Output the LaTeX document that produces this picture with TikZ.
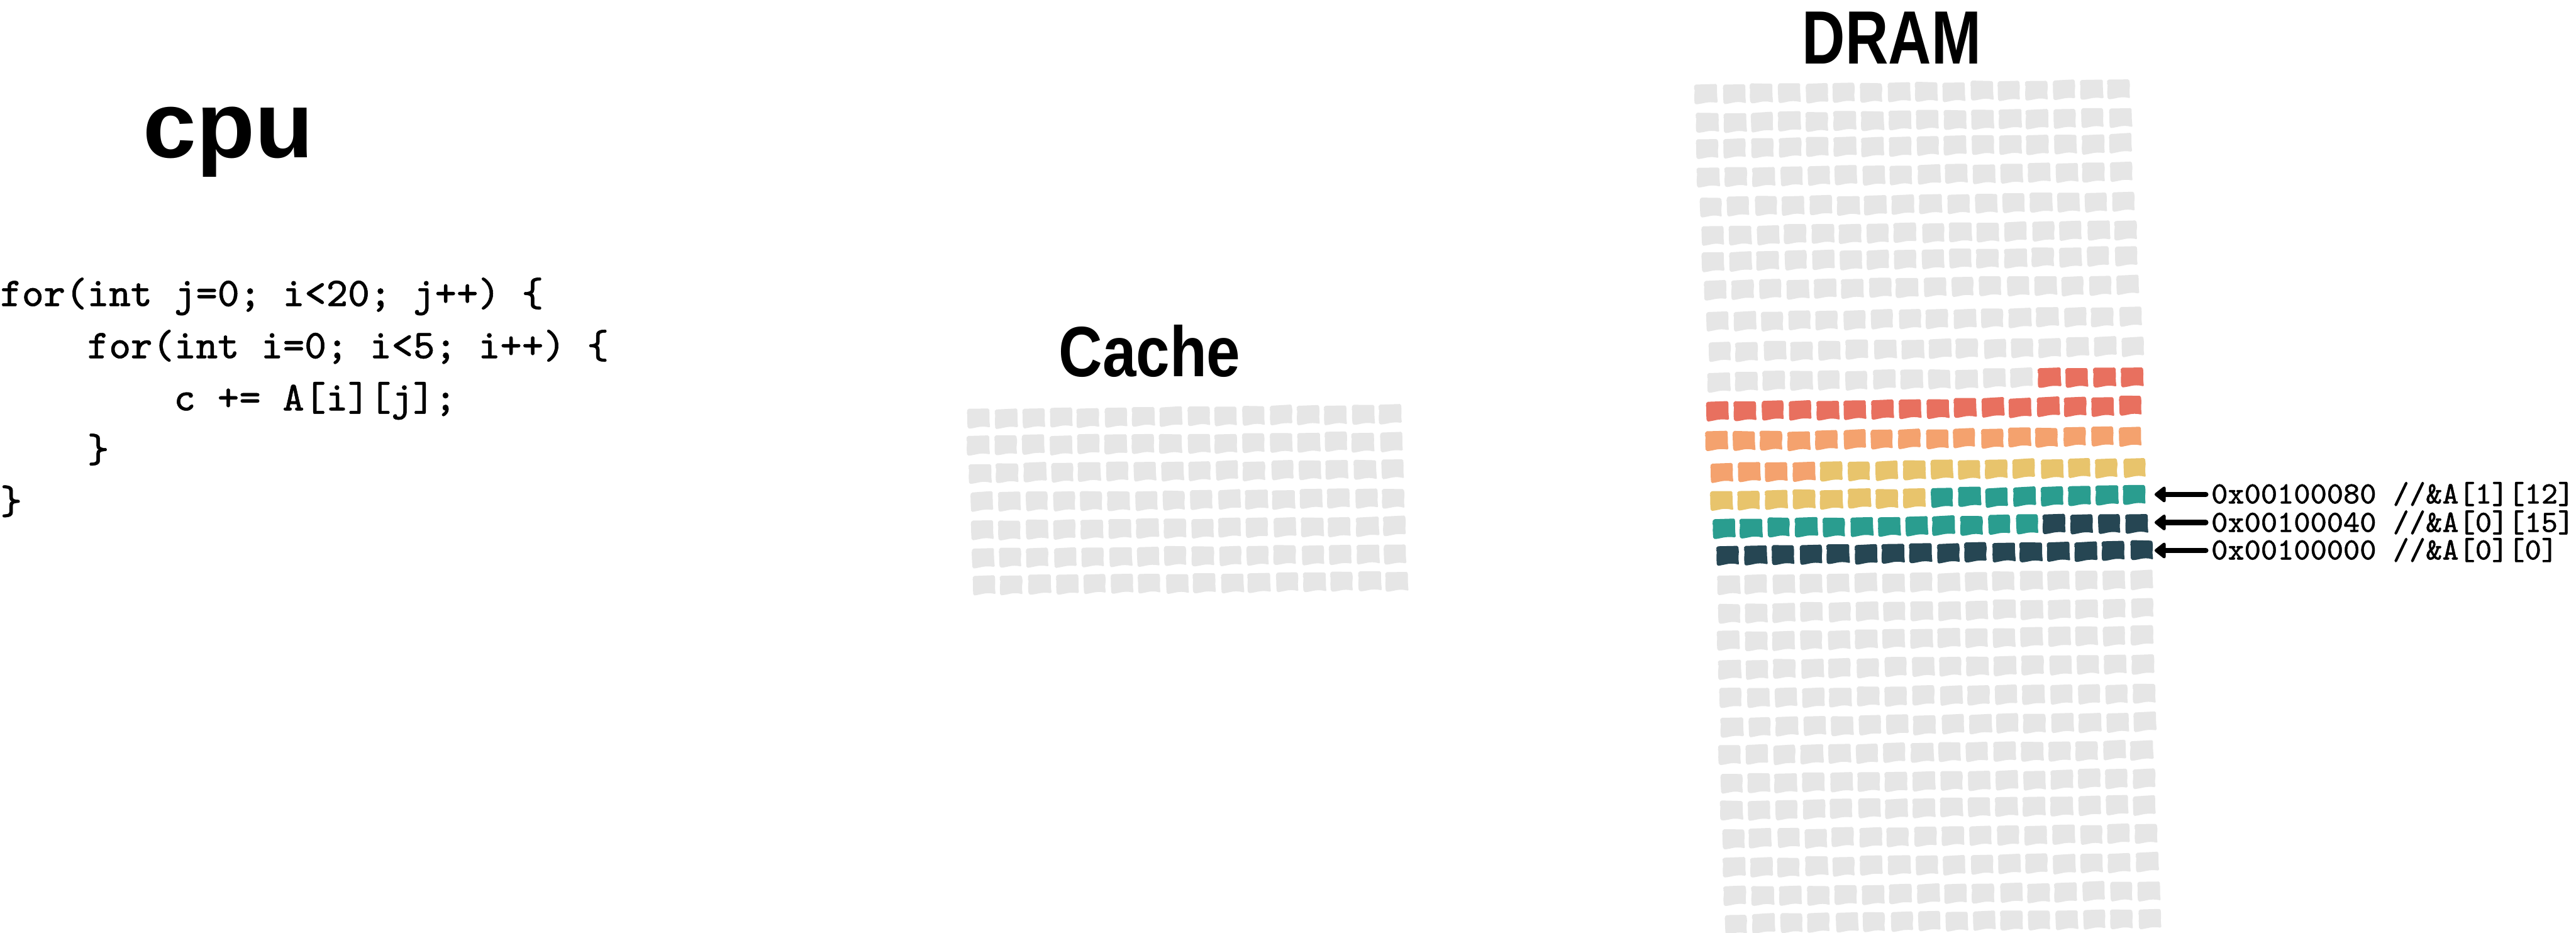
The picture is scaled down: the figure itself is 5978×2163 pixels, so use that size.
\documentclass[tikz,border=0pt]{standalone}
\usepackage{fontspec}
\usepackage{graphicx}
\newfontfamily\titlefont{Liberation Sans}
\newfontfamily\codefont{lmmono8-regular.otf}[FakeBold=0.8]
\usetikzlibrary{arrows.meta}
\definecolor{cgray}{HTML}{E6E6E6}
\definecolor{cred}{HTML}{E8705F}
\definecolor{corange}{HTML}{F4A26E}
\definecolor{cyellow}{HTML}{E8C46C}
\definecolor{cteal}{HTML}{2A9D8F}
\definecolor{cnavy}{HTML}{264653}
% hand-drawn memory cell: #1 x centre, #2 y centre, #3 colour
\newcommand\hcell[3]{%
  \pgfmathsetmacro\cx{#1+rand*1.2}%
  \pgfmathsetmacro\cy{#2+rand*1.2}%
  \pgfmathsetmacro\ra{rand*1.3}\pgfmathsetmacro\rb{rand*1.3}%
  \pgfmathsetmacro\rc{rand*1.3}\pgfmathsetmacro\rd{rand*1.3}%
  \begin{scope}[shift={(\cx,\cy)}]
    \fill[#3,rounded corners=0.8pt] (-25+\ra,-22+\rb) -- (25+\rc,-23+\rd) -- (26,-10) -- (25.5+\rc,6) -- (27+\rc,21+\rd)
      .. controls (15,18) and (3,19) .. (-5,21)
      .. controls (-13,22.5) and (-19,24) .. (-25+\ra,23+\rb)
      -- (-26+\ra,8) -- (-25.5,-12) -- (-27+\ra,-14) -- cycle;
  \end{scope}}
\begin{document}
\begin{tikzpicture}[x=0.01cm,y=-0.01cm,
  code/.style={font=\codefont\fontsize{27}{32}\selectfont, inner sep=0pt, anchor=base west},
  lab/.style={font=\codefont\fontsize{20.5}{25}\selectfont, inner sep=0pt, anchor=base west},
  title/.style={inner sep=0pt, anchor=base, font=\titlefont\bfseries},
  arr/.style={line width=3.4pt, line cap=round, -{Triangle[length=8pt,width=12pt,round]}}]
\useasboundingbox (0,0) rectangle (5978,2163);
\fill[white] (0,0) rectangle (5978,2163);
\pgfmathsetseed{7}

% titles
\node[title, font=\titlefont\bfseries\fontsize{62}{63}\selectfont] (tcpu) at (530,366) {\scalebox{1.02}[1]{cpu}};
\node[title, font=\titlefont\bfseries\fontsize{47}{48}\selectfont] (tcache) at (2668,874) {\scalebox{0.85}[1]{Cache}};
\node[title, font=\titlefont\bfseries\fontsize{49.8}{50}\selectfont] (tdram) at (4390,148) {\scalebox{0.79}[1]{DRAM}};

% code
\node[code] (l1) at (0,710) {for(int j=0; i<20; j++) \{};
\node[code] (l2) at (202,831) {for(int i=0; i<5; i++) \{};
\node[code] (l3) at (403,952) {c += A[i][j];};
\node[code] (l4) at (202,1072) {\}};
\node[code] (l5) at (0,1192) {\}};

% cache grid
\foreach \r/\yy/\xl in {1/966/2246,2/1029/2246,3/1093/2249,4/1160/2253,5/1225/2255,6/1290/2256,7/1353/2260}{
  \foreach \c in {1,...,16}{
    \hcell{\xl+24.5+(\c-1)*63.8}{\yy+(8.5-\c)*0.6}{cgray}
  }
}

% DRAM grid
\foreach \r/\yy/\xl in {1/213/3935,2/279/3937,3/339/3938,4/405/3940,5/474/3945,6/540/3950,7/601/3950,8/667/3955,9/740/3960,10/810/3966,11/880/3964,12/948/3961,13/1018/3959,14/1090/3970,15/1155/3970,16/1220/3976,17/1283/3986,18/1351/3986,19/1417/3988,20/1481/3987,21/1547/3990,22/1614/3992,23/1681/3995,24/1746/3988,25/1812/3993,26/1874/3993,27/1940/3997,28/2007/3999,29/2073/4003,30/2137/4005}{
  \foreach \c in {1,...,16}{
    \pgfmathtruncatemacro\k{(\r-11)*16+\c-13}
    \def\cc{cgray}
    \ifnum\k>-1 \ifnum\k<100
      \pgfmathtruncatemacro\g{\k/20}
      \edef\cc{\ifcase\g cred\or corange\or cyellow\or cteal\else cnavy\fi}
    \fi\fi
    \hcell{\xl+24.5+(\c-1)*63.9}{\yy+(8.5-\c)*0.8}{\cc}
  }
}

% address labels and arrows
\coordinate (t1) at (5000,1147);
\coordinate (t2) at (5000,1212);
\coordinate (t3) at (5000,1277);
\node[lab] (a1) at (5131,1168) {0x00100080 //\&A[1][12]};
\node[lab] (a2) at (5131,1234) {0x00100040 //\&A[0][15]};
\node[lab] (a3) at (5131,1298) {0x00100000 //\&A[0][0]};
\draw[arr] ([xshift=-0.12cm]a1.west |- t1) -- (t1);
\draw[arr] ([xshift=-0.12cm]a2.west |- t2) -- (t2);
\draw[arr] ([xshift=-0.12cm]a3.west |- t3) -- (t3);
\end{tikzpicture}
\end{document}
